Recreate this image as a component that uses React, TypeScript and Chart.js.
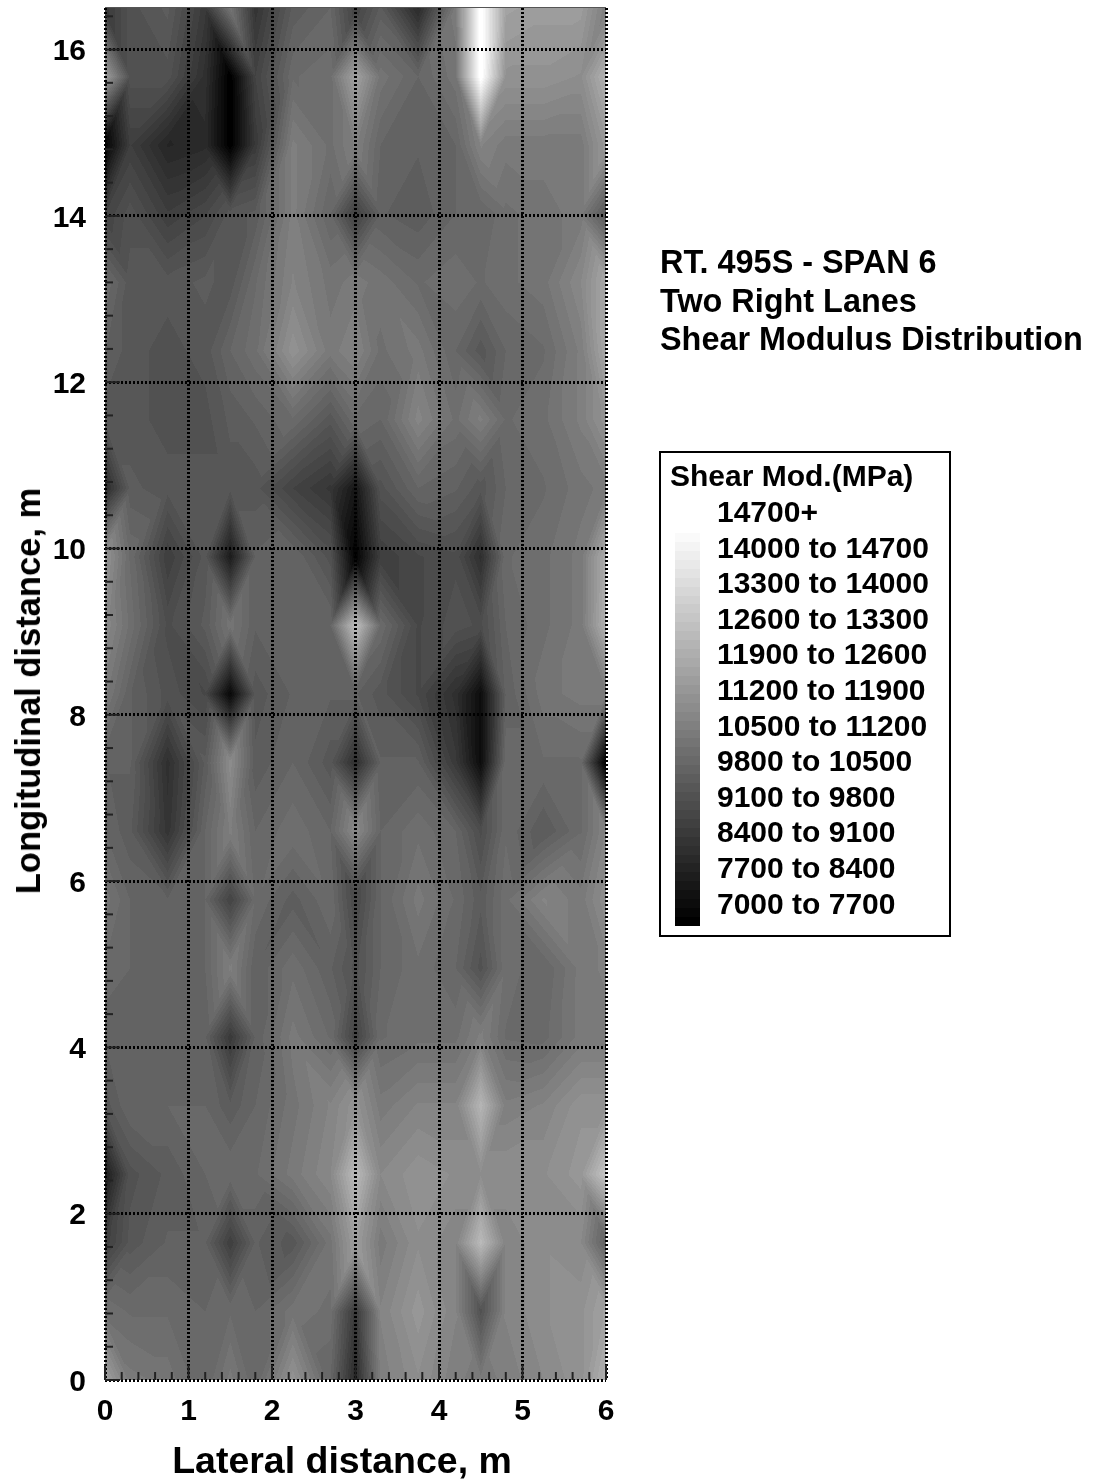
import React, { useEffect, useRef } from "react";
import { Chart, registerables } from "chart.js";

Chart.register(...registerables);

const lateralNodes = [0, 0.3, 0.75, 1.2, 1.5, 1.8, 2.25, 2.7, 3, 3.3, 3.75, 4.2, 4.5, 4.8, 5.25, 5.7, 6];
const longitudinalNodes = [0, 0.825, 1.65, 2.475, 3.3, 4.125, 4.95, 5.775, 6.6, 7.425, 8.25, 9.075, 9.9, 10.725, 11.55, 12.375, 13.2, 14.025, 14.85, 15.675, 16.5];

// Shear modulus in MPa: one row per longitudinal node, bottom row first
const shearModulus = [
  [11950, 10750, 10600, 10150, 10750, 10150, 11500, 10150, 8350, 10900, 11350, 10900, 10750, 10900, 11200, 11500, 12400],
  [10450, 10300, 10300, 10150, 10300, 10150, 10600, 10450, 8800, 11050, 11650, 11050, 9550, 11050, 11350, 11500, 11950],
  [8950, 9700, 10000, 10000, 8950, 10000, 9700, 10600, 11800, 10750, 11350, 11050, 12700, 11050, 11350, 11200, 10000],
  [7900, 9550, 9850, 10150, 10300, 10300, 10750, 11200, 12700, 11200, 11500, 11350, 11350, 11350, 11350, 11650, 13000],
  [9700, 10150, 10150, 10150, 9850, 10150, 10600, 11050, 11500, 10750, 11050, 11050, 12550, 10900, 11050, 11500, 11500],
  [10000, 10000, 10000, 10000, 8800, 10000, 10750, 10300, 9100, 10300, 10450, 10450, 10900, 10300, 10250, 10750, 10750],
  [10300, 10150, 10000, 10150, 10900, 10000, 10450, 10000, 9550, 10150, 10450, 10150, 9550, 10450, 10150, 10750, 10900],
  [10600, 10150, 10000, 10150, 9100, 10300, 9900, 10300, 9250, 10150, 10750, 10300, 9850, 10450, 11050, 10750, 11350],
  [10150, 9850, 8650, 10150, 10900, 10150, 10450, 10150, 11200, 10150, 10450, 10150, 9400, 10300, 9800, 10300, 11050],
  [10000, 10000, 8500, 9850, 11300, 9850, 10150, 9700, 8500, 10000, 10000, 8800, 7450, 10300, 10300, 10300, 7000],
  [10750, 10000, 9550, 9250, 7300, 9700, 10000, 10000, 10000, 9700, 9250, 8500, 7450, 10000, 10600, 10750, 10750],
  [11200, 10450, 9400, 9850, 10600, 10000, 10000, 10150, 12850, 10300, 9250, 9550, 9400, 10150, 10450, 10750, 12400],
  [11500, 10300, 8950, 9700, 7900, 10000, 10150, 9550, 7150, 8950, 9250, 9400, 8500, 10300, 10450, 10750, 12250],
  [8350, 9850, 9700, 9700, 9700, 9700, 9100, 8700, 7750, 9550, 10150, 10000, 9700, 10150, 10300, 10600, 10750],
  [9700, 9700, 9550, 9550, 9850, 10000, 10300, 9700, 10300, 10150, 11100, 10450, 10900, 10300, 10450, 10900, 11500],
  [10000, 9700, 9550, 9700, 10150, 10450, 11500, 10750, 11050, 10450, 10750, 10150, 9700, 10150, 10300, 10900, 12100],
  [10300, 9700, 9700, 9850, 9700, 10300, 11050, 10600, 10750, 10600, 10300, 10450, 10300, 10450, 10600, 11200, 12100],
  [9100, 9550, 8950, 9250, 9700, 9850, 10900, 10150, 9000, 10000, 9850, 10150, 10150, 10450, 10600, 10750, 9700],
  [7150, 8950, 8200, 8350, 7000, 8800, 10900, 10450, 10900, 10150, 10000, 10150, 11050, 10750, 10750, 10750, 11650],
  [11800, 9550, 9550, 8500, 7000, 9100, 10300, 10450, 11950, 10600, 10150, 10600, 15000, 11500, 11500, 11350, 12400],
  [8800, 9550, 9850, 8800, 10600, 8650, 9850, 10150, 9100, 9850, 8350, 10750, 15000, 11950, 11800, 11800, 10900],
];

const xMajorTicks = [0, 1, 2, 3, 4, 5, 6];
const xMinorTicks = [0.2, 0.4, 0.6, 0.8, 1.2, 1.4, 1.6, 1.8, 2.2, 2.4, 2.6, 2.8, 3.2, 3.4, 3.6, 3.8, 4.2, 4.4, 4.6, 4.8, 5.2, 5.4, 5.6, 5.8];
const yMajorTicks = [0, 2, 4, 6, 8, 10, 12, 14, 16];
const yMinorTicks = [0.4, 0.8, 1.2, 1.6, 2.4, 2.8, 3.2, 3.6, 4.4, 4.8, 5.2, 5.6, 6.4, 6.8, 7.2, 7.6, 8.4, 8.8, 9.2, 9.6, 10.4, 10.8, 11.2, 11.6, 12.4, 12.8, 13.2, 13.6, 14.4, 14.8, 15.2, 15.6, 16.4];

const titleLines = ["RT. 495S - SPAN 6", "Two Right Lanes", "Shear Modulus Distribution"];
const xAxisTitle = "Lateral distance, m";
const yAxisTitle = "Longitudinal distance, m";
const legendTitle = "Shear Mod.(MPa)";
const legendLabels = ["14700+", "14000 to 14700", "13300 to 14000", "12600 to 13300", "11900 to 12600", "11200 to 11900", "10500 to 11200", "9800 to 10500", "9100 to 9800", "8400 to 9100", "7700 to 8400", "7000 to 7700"];

const V_MIN = 7000;
const V_MAX = 14700;
const BAND = 175;

function grayOf(v: number): number {
  if (v >= V_MAX) return 255;
  const band = Math.max(0, Math.floor((v - V_MIN) / BAND));
  return Math.round((band * 250) / 43);
}

function findCell(nodes: number[], v: number): number {
  for (let i = 0; i < nodes.length - 2; i++) if (v < nodes[i + 1]) return i;
  return nodes.length - 2;
}

function valueAt(x: number, y: number): number {
  const c = findCell(lateralNodes, x);
  const r = findCell(longitudinalNodes, y);
  const u = (x - lateralNodes[c]) / (lateralNodes[c + 1] - lateralNodes[c]);
  const t = (y - longitudinalNodes[r]) / (longitudinalNodes[r + 1] - longitudinalNodes[r]);
  const a = shearModulus[r][c];
  const b = shearModulus[r][c + 1];
  const d = shearModulus[r + 1][c];
  const e = shearModulus[r + 1][c + 1];
  // Split each cell along its flatter diagonal
  if (Math.abs(b - d) <= Math.abs(a - e)) {
    if (u + t <= 1) return a + (b - a) * u + (d - a) * t;
    return e + (d - e) * (1 - u) + (b - e) * (1 - t);
  }
  if (u >= t) return b + (a - b) * (1 - u) + (e - b) * t;
  return d + (e - d) * u + (a - d) * (1 - t);
}

const contourPlugin = {
  id: "contour",
  beforeDatasetsDraw(chart: any) {
    const { ctx, chartArea, scales } = chart;
    const left = Math.round(chartArea.left);
    const top = Math.round(chartArea.top);
    const w = Math.round(chartArea.right) - left;
    const h = Math.round(chartArea.bottom) - top;
    const img = ctx.createImageData(w, h);
    for (let j = 0; j < h; j++) {
      const y = scales.y.getValueForPixel(top + j + 0.5);
      for (let i = 0; i < w; i++) {
        const x = scales.x.getValueForPixel(left + i + 0.5);
        const g = grayOf(valueAt(x, y));
        const k = (j * w + i) * 4;
        img.data[k] = g;
        img.data[k + 1] = g;
        img.data[k + 2] = g;
        img.data[k + 3] = 255;
      }
    }
    ctx.putImageData(img, left, top);
  },
  afterDraw(chart: any) {
    const { ctx, chartArea, scales } = chart;
    ctx.save();
    ctx.strokeStyle = "#222";
    ctx.lineWidth = 2;
    const tick = (x1: number, y1: number, x2: number, y2: number) => {
      ctx.beginPath();
      ctx.moveTo(x1, y1);
      ctx.lineTo(x2, y2);
      ctx.stroke();
    };
    xMinorTicks.forEach((v) => {
      const p = scales.x.getPixelForValue(v);
      tick(p, chartArea.bottom, p, chartArea.bottom - 8);
    });
    xMajorTicks.forEach((v) => {
      const p = scales.x.getPixelForValue(v);
      tick(p, chartArea.bottom, p, chartArea.bottom - 15);
    });
    yMinorTicks.forEach((v) => {
      const p = scales.y.getPixelForValue(v);
      tick(chartArea.left, p, chartArea.left + 8, p);
    });
    yMajorTicks.forEach((v) => {
      const p = scales.y.getPixelForValue(v);
      tick(chartArea.left, p, chartArea.left + 15, p);
    });
    ctx.strokeStyle = "#555";
    ctx.lineWidth = 1;
    tick(chartArea.left, chartArea.top - 0.5, chartArea.right, chartArea.top - 0.5);
    ctx.restore();
  },
};

const FONT = '"Liberation Sans", Arial, sans-serif';

const textStyle = (left: number, centerY: number, size: number): React.CSSProperties => ({
  position: "absolute",
  left,
  top: centerY - 20,
  height: 40,
  lineHeight: "40px",
  fontFamily: FONT,
  fontWeight: 700,
  fontSize: size,
  color: "#000",
  whiteSpace: "nowrap",
});

const legendBands = Array.from({ length: 44 }, (_, i) => 43 - i);

export default function App() {
  const ref = useRef<HTMLCanvasElement>(null);

  useEffect(() => {
    const axisBase = {
      type: "linear" as const,
      grid: { display: true, color: "#000", lineWidth: 3, drawTicks: false, z: 1 },
      border: { display: false, dash: [2, 2] },
    };
    const chart = new Chart(ref.current as HTMLCanvasElement, {
      type: "scatter",
      data: {
        datasets: [
          {
            label: "Shear modulus (MPa)",
            data: longitudinalNodes.flatMap((y, r) =>
              lateralNodes.map((x, c) => ({ x, y, v: shearModulus[r][c] }))
            ),
            pointRadius: 0,
            showLine: false,
          },
        ],
      },
      options: {
        animation: false,
        responsive: false,
        layout: { padding: { left: 0, top: 8, right: 514, bottom: 0 } },
        plugins: { legend: { display: false }, tooltip: { enabled: false } },
        scales: {
          x: {
            ...axisBase,
            min: 0,
            max: 6,
            afterFit: (s: any) => {
              s.height = 103;
              s.paddingLeft = 0;
              s.paddingRight = 0;
            },
            ticks: {
              stepSize: 1,
              padding: 14,
              color: "#000",
              maxRotation: 0,
              autoSkip: false,
              font: { family: FONT, weight: "bold", size: 30 },
            },
          },
          y: {
            ...axisBase,
            min: 0,
            max: 16.5,
            afterFit: (s: any) => {
              s.width = 105;
              s.paddingTop = 0;
              s.paddingBottom = 0;
            },
            ticks: {
              stepSize: 2,
              padding: 19,
              labelOffset: 2.5,
              color: "#000",
              autoSkip: false,
              includeBounds: false,
              font: { family: FONT, weight: "bold", size: 30 },
            },
          },
        },
      } as any,
      plugins: [contourPlugin],
    });
    return () => chart.destroy();
  }, []);

  return (
    <div style={{ position: "absolute", left: 0, top: 0, width: 1120, height: 1483, overflow: "hidden", background: "#fff" }}>
      <canvas ref={ref} width={1120} height={1483} style={{ display: "block" }} />
      <div style={{ ...textStyle(342, 1460, 37.5), transform: "translateX(-50%)" }}>{xAxisTitle}</div>
      <div style={{ ...textStyle(28, 691, 34.5), transform: "translateX(-50%) rotate(-90deg)" }}>{yAxisTitle}</div>
      {titleLines.map((t, i) => (
        <div key={t} style={textStyle(660, 262 + i * 38.5, 32.4)}>
          {t}
        </div>
      ))}
      <div style={{ position: "absolute", left: 659, top: 451, width: 288, height: 482, border: "2px solid #000" }} />
      <div style={textStyle(670, 476, 30)}>{legendTitle}</div>
      {legendLabels.map((t, i) => (
        <div key={t} style={textStyle(717, 512 + i * 35.6, 30)}>
          {t}
        </div>
      ))}
      {legendBands.map((b, i) => (
        <div
          key={b}
          style={{
            position: "absolute",
            left: 675,
            width: 25,
            top: 533 + (i * 393) / 44,
            height: 393 / 44 + 0.5,
            background: `rgb(${grayOf(V_MIN + b * BAND)},${grayOf(V_MIN + b * BAND)},${grayOf(V_MIN + b * BAND)})`,
          }}
        />
      ))}
    </div>
  );
}
